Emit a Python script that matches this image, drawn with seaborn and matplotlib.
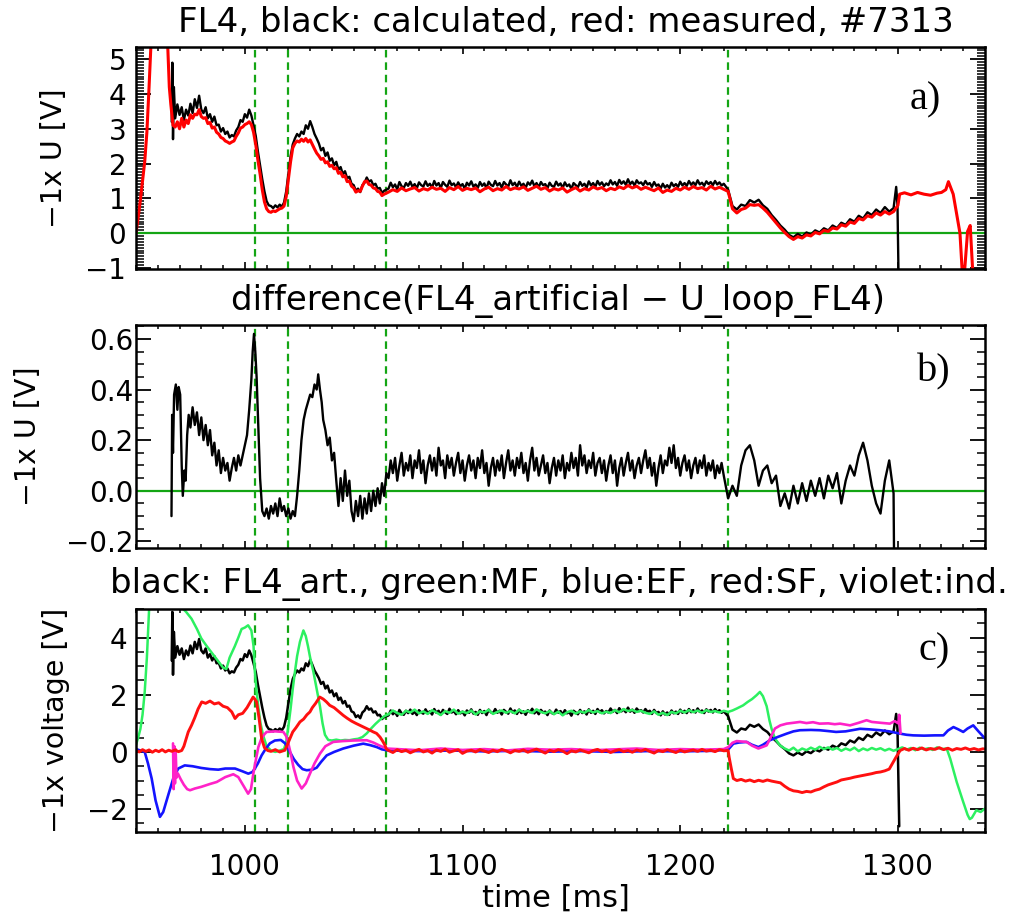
import numpy as np
import pandas as pd
import matplotlib
matplotlib.use("Agg")
import matplotlib.pyplot as plt
from matplotlib.ticker import MultipleLocator, FuncFormatter
import seaborn as sns

# ---------------------------------------------------------------- data
# time window and phase markers [ms]
t_range = (950, 1340)
event_times = [1004.5, 1020, 1065, 1222]

# sampling grids [ms]: flat-top phase at 2 ms and 1 ms, start-up at 1 ms,
# ramp-down at 2 ms
flat_t = np.arange(1066, 1221, 2)
flat1_t = np.arange(1066, 1221)
rise_t = np.arange(968, 1066)
end_t = np.arange(1222, 1299, 2)

# --- FL4 calculated (black), -1x U [V]
calc_start = [(966.4, 3.2), (966.7, 4.9), (967.0, 2.7), (967.4, 4.2)]
calc_rise = [3.30, 3.70, 3.40, 3.62, 3.25, 3.55, 3.38, 3.72, 3.45, 3.85,
             3.60, 3.95, 3.55, 3.45, 3.62, 3.30, 3.42, 3.20, 3.35, 3.10,
             3.12, 2.92, 3.02, 2.85, 2.92, 2.75, 2.82, 2.78, 2.95, 3.05,
             3.25, 3.20, 3.42, 3.32, 3.55, 3.38, 3.10, 2.80, 2.35, 1.95,
             1.55, 1.20, 0.92, 0.80, 0.78, 0.72, 0.80, 0.74, 0.82, 0.76,
             0.88, 1.20, 1.70, 2.20, 2.55, 2.72, 2.85, 2.78, 2.92, 2.85,
             3.10, 3.00, 3.22, 3.05, 2.85, 2.72, 2.58, 2.38, 2.45, 2.22,
             2.32, 2.08, 2.15, 1.95, 2.05, 1.82, 1.90, 1.70, 1.78, 1.58,
             1.62, 1.42, 1.38, 1.22, 1.28, 1.18, 1.38, 1.45, 1.60, 1.48,
             1.52, 1.38, 1.42, 1.28, 1.30, 1.15, 1.22, 1.25]
calc_flat = [1.28, 1.45, 1.32, 1.40, 1.26, 1.47, 1.35, 1.30, 1.44, 1.36,
             1.48, 1.33, 1.41, 1.29, 1.46, 1.38, 1.34, 1.49, 1.36, 1.42,
             1.31, 1.50, 1.37, 1.44, 1.30, 1.47, 1.39, 1.33, 1.51, 1.38,
             1.43, 1.32, 1.46, 1.35, 1.41, 1.28, 1.45, 1.37, 1.49, 1.34,
             1.40, 1.30, 1.47, 1.36, 1.43, 1.29, 1.48, 1.39, 1.35, 1.50,
             1.37, 1.44, 1.31, 1.47, 1.40, 1.34, 1.52, 1.38, 1.45, 1.33,
             1.48, 1.36, 1.42, 1.30, 1.46, 1.39, 1.51, 1.35, 1.44, 1.32,
             1.47, 1.38, 1.41, 1.29, 1.45, 1.36, 1.33, 1.48, 1.37, 1.43,
             1.30, 1.46, 1.35, 1.40, 1.27, 1.44, 1.38, 1.32, 1.47, 1.36,
             1.42, 1.31, 1.49, 1.37, 1.44, 1.33, 1.50, 1.39, 1.46, 1.35,
             1.43, 1.38, 1.52, 1.40, 1.47, 1.36, 1.53, 1.42, 1.49, 1.39,
             1.55, 1.41, 1.48, 1.37, 1.52, 1.43, 1.46, 1.38, 1.50, 1.40,
             1.44, 1.33, 1.47, 1.36, 1.40, 1.28, 1.42, 1.31, 1.38, 1.30,
             1.45, 1.35, 1.41, 1.33, 1.48, 1.37, 1.44, 1.36, 1.50, 1.39,
             1.46, 1.38, 1.52, 1.40, 1.45, 1.36, 1.49, 1.41, 1.47, 1.38,
             1.50, 1.40, 1.46, 1.37, 1.42]
calc_end = [1.25, 0.78, 0.68, 0.82, 0.78, 0.95, 0.88, 0.96, 0.80, 0.70,
            0.52, 0.38, 0.22, 0.10, -0.05, -0.12, -0.02, -0.10, 0.02, -0.04,
            0.08, 0.02, 0.14, 0.08, 0.22, 0.15, 0.30, 0.24, 0.40, 0.33,
            0.50, 0.42, 0.60, 0.52, 0.68, 0.58, 0.75, 0.62, 0.72]
calc_stop = [(1299.2, 1.33), (1299.8, 0.8), (1300.6, -2.6)]

# --- U_loop_FL4 measured (red), -1x U [V]
meas_start = [(950, 0.0), (951, 0.45), (952, 0.95), (953, 1.5), (954, 2.05),
              (955, 2.9), (956, 4.2), (957, 5.6), (958, 7.5), (963.5, 7.5),
              (964.5, 5.5), (965.3, 4.2), (966, 3.7), (967, 3.1)]
meas_rise = [3.05, 3.20, 3.00, 3.30, 3.05, 3.25, 3.15, 3.40, 3.30, 3.42,
             3.40, 3.55, 3.35, 3.30, 3.32, 3.15, 3.18, 3.02, 3.05, 2.90,
             2.85, 2.75, 2.72, 2.65, 2.62, 2.58, 2.62, 2.65, 2.78, 2.88,
             3.02, 3.05, 3.12, 3.15, 3.20, 3.12, 2.90, 2.55, 2.10, 1.70,
             1.25, 0.90, 0.70, 0.62, 0.60, 0.64, 0.62, 0.66, 0.70, 0.72,
             0.78, 1.05, 1.55, 2.05, 2.45, 2.58, 2.65, 2.62, 2.70, 2.64,
             2.72, 2.62, 2.68, 2.55, 2.42, 2.30, 2.22, 2.12, 2.15, 2.02,
             2.05, 1.92, 1.95, 1.85, 1.88, 1.72, 1.75, 1.62, 1.65, 1.48,
             1.50, 1.35, 1.30, 1.18, 1.22, 1.20, 1.35, 1.48, 1.50, 1.40,
             1.38, 1.30, 1.28, 1.20, 1.18, 1.08, 1.12, 1.15]
meas_flat = [1.18, 1.25, 1.20, 1.30, 1.22, 1.27, 1.31, 1.21, 1.28, 1.24,
             1.32, 1.26, 1.29, 1.20, 1.31, 1.25, 1.34, 1.23, 1.29, 1.25,
             1.30, 1.19, 1.27, 1.32, 1.22, 1.28, 1.24, 1.34, 1.25, 1.30,
             1.27, 1.33, 1.23, 1.29, 1.35, 1.26, 1.31, 1.21, 1.28, 1.24,
             1.30, 1.18, 1.25, 1.31, 1.21, 1.28, 1.24, 1.33, 1.27, 1.31,
             1.22, 1.29, 1.25, 1.33, 1.28, 1.37, 1.30, 1.35, 1.26, 1.32,
             1.27, 1.22, 1.30, 1.17, 1.24, 1.20, 1.29, 1.24, 1.32, 1.26,
             1.34, 1.28, 1.31, 1.24, 1.35, 1.27, 1.32, 1.26]
meas_end = [1.20, 0.70, 0.58, 0.68, 0.72, 0.82, 0.80, 0.82, 0.72, 0.60,
            0.45, 0.30, 0.15, 0.02, -0.10, -0.18, -0.10, -0.14, -0.05, -0.08,
            0.02, -0.02, 0.08, 0.05, 0.15, 0.12, 0.24, 0.20, 0.32, 0.28,
            0.42, 0.38, 0.50, 0.46, 0.58, 0.52, 0.62, 0.55, 0.62]
meas_stop = [(1300.0, 0.80), (1300.8, 1.12), (1303, 1.16), (1306, 1.10),
             (1309, 1.17), (1312, 1.12), (1315, 1.09), (1318, 1.15),
             (1320, 1.17), (1322, 1.25), (1323.2, 1.48), (1325.4, 1.12),
             (1327, 0.55), (1328.5, 0.0), (1330, -1.6), (1332, 0.05),
             (1333.2, 0.22), (1334.8, -1.6)]

# --- difference FL4_artificial - U_loop_FL4, -1x U [V]
diff_start = [(966.3, -0.10), (966.6, 0.30), (967.0, 0.15), (967.5, 0.38),
              (968.3, 0.42), (969.0, 0.32), (969.6, 0.41), (970.3, 0.38),
              (971.0, 0.10), (971.5, -0.02), (972.2, 0.08), (972.8, 0.04),
              (973.5, 0.22), (974.2, 0.30), (975, 0.25), (976, 0.33),
              (977, 0.26), (978, 0.31), (979, 0.22), (980, 0.29), (981, 0.20),
              (982, 0.26), (983, 0.18), (984, 0.24), (985, 0.14), (986, 0.19),
              (987, 0.10), (988, 0.16), (989, 0.07), (990, 0.13), (991, 0.08),
              (992, 0.11), (993, 0.04), (994, 0.09), (995, 0.13), (996, 0.08),
              (997, 0.14), (998, 0.10), (999, 0.14), (1000, 0.18), (1001, 0.22),
              (1002, 0.32), (1003, 0.44), (1003.6, 0.55), (1004.2, 0.62),
              (1004.8, 0.55), (1005.4, 0.45), (1006.2, 0.25), (1007, 0.05),
              (1008, -0.08), (1009, -0.10), (1010, -0.07), (1011, -0.11),
              (1012, -0.06), (1013, -0.09), (1014, -0.05), (1015, -0.10),
              (1016, -0.03), (1017, -0.08), (1018, -0.06), (1019, -0.10),
              (1020, -0.07), (1021, -0.11), (1022, -0.08), (1023, -0.10),
              (1024, -0.02), (1025, 0.08), (1026, 0.20), (1027, 0.28),
              (1028, 0.32), (1029, 0.35), (1030, 0.38), (1031, 0.37),
              (1032, 0.42), (1033, 0.40), (1033.7, 0.46), (1034.5, 0.40),
              (1035.3, 0.35), (1036, 0.28), (1037, 0.24), (1038, 0.18),
              (1039, 0.21), (1040, 0.12), (1041, 0.15), (1042, 0.04),
              (1043, -0.06), (1044, 0.05), (1045, -0.04), (1046, 0.08),
              (1047, -0.02), (1048, 0.04), (1049, -0.08), (1050, -0.12),
              (1051, -0.04), (1052, -0.10), (1053, -0.02), (1054, -0.11),
              (1055, -0.03), (1056, -0.09), (1057, -0.01), (1058, -0.08),
              (1059, 0.00), (1060, -0.06), (1061, 0.01), (1062, -0.05),
              (1063, 0.03), (1064, -0.02), (1065, 0.07)]
diff_flat = [0.05, 0.12, 0.07, 0.13, 0.04, 0.10, 0.15, 0.06, 0.11, 0.08,
             0.14, 0.05, 0.12, 0.09, 0.16, 0.07, 0.12, 0.03, 0.10, 0.14,
             0.08, 0.13, 0.06, 0.17, 0.10, 0.12, 0.05, 0.14, 0.09, 0.13,
             0.06, 0.11, 0.15, 0.07, 0.12, 0.04, 0.10, 0.14, 0.08, 0.12,
             0.05, 0.13, 0.09, 0.16, 0.07, 0.11, 0.02, 0.09, 0.13, 0.06,
             0.12, 0.08, 0.14, 0.05, 0.11, 0.16, 0.08, 0.12, 0.06, 0.13,
             0.09, 0.15, 0.07, 0.11, 0.04, 0.12, 0.17, 0.08, 0.13, 0.06,
             0.10, 0.14, 0.07, 0.11, 0.03, 0.09, 0.13, 0.06, 0.12, 0.08,
             0.14, 0.05, 0.11, 0.08, 0.15, 0.09, 0.13, 0.06, 0.18, 0.10,
             0.14, 0.07, 0.12, 0.09, 0.15, 0.06, 0.11, 0.13, 0.07, 0.12,
             0.04, 0.10, 0.14, 0.07, 0.12, 0.02, 0.09, 0.13, 0.06, 0.11,
             0.15, 0.08, 0.12, 0.05, 0.10, 0.13, 0.07, 0.12, 0.16, 0.09,
             0.13, 0.06, 0.11, 0.02, 0.09, 0.14, 0.07, 0.12, 0.10, 0.17,
             0.11, 0.18, 0.09, 0.13, 0.06, 0.11, 0.14, 0.08, 0.12, 0.05,
             0.10, 0.13, 0.07, 0.12, 0.09, 0.14, 0.06, 0.11, 0.08, 0.12,
             0.05, 0.10, 0.07, 0.11, 0.06]
diff_end = [-0.03, 0.02, -0.02, 0.10, 0.16, 0.18, 0.12, 0.02, 0.08, 0.10,
            0.03, 0.06, -0.06, -0.01, -0.07, 0.02, -0.05, 0.03, -0.04, 0.04,
            -0.02, 0.05, -0.03, 0.06, 0.01, 0.07, -0.05, 0.04, 0.10, 0.06,
            0.14, 0.19, 0.12, 0.02, -0.05, -0.09, 0.04, 0.12, -0.01]
diff_stop = [(1298.3, -0.35)]

# --- coil contributions, -1x voltage [V]
mf_start = [(950, 0.25), (951, 0.5), (952, 0.8), (953, 1.3), (954, 2.1),
            (955, 3.3), (955.5, 4.1), (956.2, 5.3), (957, 7.0), (970, 6.5),
            (971.7, 5.0), (973, 4.9), (975.5, 4.66), (978, 4.3), (980, 3.97),
            (982.5, 3.7), (985, 3.45), (987.5, 3.2), (990, 2.95), (991.5, 2.9),
            (993, 3.3), (995.4, 3.7), (997, 4.0), (998.5, 4.3), (1000, 4.35),
            (1001.5, 4.43), (1003, 4.25), (1004, 3.7), (1004.6, 2.8),
            (1005.3, 2.2), (1006.1, 1.63), (1007.2, 1.0), (1008.4, 0.58),
            (1010, 0.2), (1012, 0.05), (1014, 0.0), (1016, 0.05), (1018, 0.1),
            (1019, 0.35), (1020, 0.9), (1021, 1.5), (1022, 2.2), (1023, 2.8),
            (1024, 3.35), (1025.3, 3.85), (1026.9, 4.25), (1028, 4.05),
            (1029, 3.7), (1030, 3.3), (1031.5, 2.8), (1033, 2.2),
            (1034.5, 1.6), (1035.7, 1.0), (1036.8, 0.6), (1038.3, 0.42),
            (1040, 0.40), (1042, 0.43), (1044, 0.40), (1046, 0.42),
            (1048, 0.41), (1050, 0.44), (1052, 0.46), (1054, 0.52),
            (1056, 0.65), (1058, 0.82), (1060, 0.98), (1062, 1.12), (1064, 1.25)]
mf_flat = [1.32, 1.45, 1.36, 1.30, 1.44, 1.38, 1.48, 1.35, 1.42, 1.33,
           1.46, 1.38, 1.29, 1.43, 1.37, 1.48, 1.34, 1.41, 1.36, 1.45,
           1.31, 1.42, 1.38, 1.47, 1.33, 1.40, 1.45, 1.37, 1.43, 1.35,
           1.47, 1.39, 1.44, 1.36, 1.49, 1.40, 1.35, 1.43, 1.32, 1.41,
           1.28, 1.39, 1.44, 1.34, 1.42, 1.37, 1.46, 1.38, 1.43, 1.35,
           1.41, 1.36, 1.46, 1.39, 1.50, 1.43, 1.47, 1.40, 1.44, 1.37,
           1.33, 1.42, 1.30, 1.37, 1.29, 1.40, 1.35, 1.44, 1.38, 1.46,
           1.39, 1.45, 1.37, 1.46, 1.40, 1.43, 1.38, 1.44]
mf_end = [(1222, 1.40), (1224, 1.45), (1226, 1.52), (1228.9, 1.63),
          (1231, 1.75), (1233, 1.85), (1235, 1.98), (1236.6, 2.10),
          (1238, 1.95), (1239.7, 1.60), (1241, 1.10), (1242, 0.80),
          (1243.5, 0.47), (1245.8, 0.23), (1248, 0.12), (1250, 0.05),
          (1252, 0.15), (1254, 0.02), (1256, 0.12), (1258, 0.06), (1260, 0.15),
          (1262, 0.08), (1264, 0.18), (1266, 0.10), (1268, 0.16), (1270, 0.08),
          (1272, 0.14), (1274, 0.04), (1276, 0.12), (1278, 0.06), (1280, 0.15),
          (1282, 0.03), (1284, 0.12), (1286, 0.06), (1288, 0.14), (1290, 0.08),
          (1292, 0.13), (1294, 0.05), (1296, 0.11), (1298, 0.04), (1300, 0.10),
          (1302, 0.16), (1304, 0.08), (1306, 0.14), (1308, 0.06), (1310, 0.15),
          (1312, 0.09), (1314, 0.13), (1316, 0.07), (1318, 0.16), (1320, 0.10),
          (1322.4, 0.12), (1324, -0.23), (1327, -1.05), (1330, -1.75),
          (1332, -2.2), (1333, -2.35), (1334, -2.3), (1336, -2.04),
          (1338, -2.1), (1340, -1.98)]

ef_pts = [(950, 0.10), (952, 0.05), (954, 0.0), (955.5, -0.4), (957.2, -0.93),
          (959, -1.7), (961, -2.27), (962.5, -2.1), (964.8, -1.51),
          (967.1, -0.93), (969.4, -0.58), (972.4, -0.47), (976, -0.50),
          (980, -0.56), (984, -0.60), (987.8, -0.62), (991, -0.58),
          (995.5, -0.58), (999, -0.68), (1001.6, -0.76), (1003.5, -0.70),
          (1004.6, -0.58), (1006, -0.40), (1007.7, -0.12), (1009.5, 0.10),
          (1011.5, 0.30), (1013.8, 0.40), (1016.5, 0.42), (1018.5, 0.30),
          (1020.7, 0.0), (1022.5, -0.25), (1024.5, -0.45), (1026.5, -0.60),
          (1028.4, -0.64), (1031, -0.62), (1033, -0.55), (1035, -0.35),
          (1037.6, -0.12), (1041, 0.0), (1045.2, 0.12), (1050, 0.22),
          (1054.4, 0.29), (1057.5, 0.24), (1060.6, 0.17), (1063, 0.09),
          (1066, 0.05), (1080, 0.03), (1095, 0.05), (1110, 0.02), (1125, 0.04),
          (1140, 0.01), (1155, 0.03), (1170, 0.0), (1185, 0.03), (1200, 0.02),
          (1215, 0.04), (1222, 0.08), (1224.4, 0.29), (1227, 0.33),
          (1230.5, 0.35), (1233, 0.25), (1235.9, 0.17), (1238, 0.25),
          (1241.2, 0.41), (1245, 0.53), (1248.9, 0.64), (1252, 0.72),
          (1255, 0.76), (1260, 0.77), (1264, 0.76), (1268, 0.73),
          (1271.6, 0.70), (1276, 0.72), (1282.6, 0.81), (1287, 0.79),
          (1291.8, 0.76), (1296, 0.72), (1301, 0.64), (1304, 0.60),
          (1307, 0.58), (1312, 0.57), (1317, 0.58), (1320.9, 0.58),
          (1323, 0.75), (1325.5, 0.87), (1327.5, 0.80), (1330, 0.70),
          (1332, 0.82), (1334.6, 0.93), (1337, 0.72), (1340, 0.47)]

sf_start = [(950, 0.05), (951.5, 0.0), (953, 0.08), (954.5, 0.02), (956, 0.07),
            (957.5, -0.01), (959, 0.06), (960.5, 0.01), (962, 0.08),
            (963.5, 0.0), (965, 0.06), (966.5, 0.02), (968, 0.07),
            (969.5, 0.01), (971, 0.05), (972, 0.20), (973, 0.45), (974, 0.70),
            (975.5, 0.93), (977, 1.20), (978.5, 1.50), (980.2, 1.75),
            (982, 1.70), (984, 1.78), (986, 1.68), (988, 1.72), (990, 1.60),
            (992, 1.55), (994, 1.40), (995.5, 1.17), (997, 1.30), (999, 1.35),
            (1001, 1.55), (1002.5, 1.75), (1003.8, 1.92), (1004.6, 1.85),
            (1005.4, 1.75), (1006.5, 1.20), (1007.7, 0.47), (1009, 0.15),
            (1010.5, 0.05), (1012, 0.02), (1014, 0.08), (1016, 0.0),
            (1018.4, 0.06), (1019.5, 0.25), (1020.7, 0.47), (1022, 0.70),
            (1023.5, 0.85), (1025.3, 1.05), (1027, 1.15), (1028.5, 1.30),
            (1029.9, 1.40), (1031, 1.55), (1032.5, 1.70), (1034.4, 1.92),
            (1036, 1.85), (1037.5, 1.75), (1039, 1.63), (1041, 1.55),
            (1043, 1.42), (1045.2, 1.28), (1047, 1.18), (1049, 1.08),
            (1051, 1.00), (1052.9, 0.93), (1055, 0.85), (1057, 0.78),
            (1059, 0.70), (1060.5, 0.65), (1062.1, 0.52), (1063.3, 0.38),
            (1064.4, 0.23), (1065, 0.10)]
sf_flat = [0.05, -0.02, 0.08, 0.01, 0.06, -0.03, 0.04, 0.09, 0.00, 0.05,
           -0.04, 0.07, 0.02, 0.10, -0.01, 0.04, 0.08, -0.05, 0.03, 0.06,
           0.00, 0.08, 0.03, -0.02, 0.06, 0.01, 0.09, 0.04, -0.03, 0.05,
           0.02, 0.07, -0.01, 0.05, 0.10, 0.03, -0.04, 0.06, 0.01, 0.08,
           0.03, -0.06, 0.04, 0.00, 0.07, 0.02, -0.03, 0.05, 0.09, 0.01,
           0.06, -0.02, 0.04, 0.08, 0.01, 0.05, -0.01, 0.07, 0.03, 0.09,
           0.02, -0.04, 0.05, 0.01, 0.08, 0.03, -0.02, 0.06, 0.00, 0.04,
           0.07, 0.02, 0.09, 0.03, 0.06, 0.01, 0.08, 0.04]
sf_end = [(1222, 0.05), (1222.5, -0.20), (1223.5, -0.60), (1224.4, -0.93),
          (1226, -1.00), (1228, -0.96), (1230, -1.02), (1232, -0.98),
          (1234, -1.04), (1236, -0.99), (1238, -1.03), (1240, -0.98),
          (1242, -1.02), (1244, -1.05), (1246, -1.08), (1248, -1.20),
          (1250, -1.30), (1252, -1.36), (1254, -1.38), (1256, -1.42),
          (1258, -1.38), (1260, -1.40), (1262, -1.34), (1264, -1.30),
          (1266, -1.22), (1268, -1.15), (1270, -1.10), (1272, -1.05),
          (1274, -0.98), (1276, -0.95), (1278, -0.92), (1280, -0.88),
          (1282, -0.85), (1284, -0.82), (1286, -0.79), (1288, -0.76),
          (1290, -0.72), (1292, -0.70), (1294, -0.66), (1296, -0.60),
          (1297.5, -0.40), (1299, -0.20), (1301, 0.05), (1303, 0.12),
          (1305, 0.06), (1307, 0.13), (1309, 0.08), (1311, 0.14), (1313, 0.07),
          (1315, 0.12), (1317, 0.09), (1319, 0.15), (1321, 0.08), (1323, 0.13),
          (1325, 0.06), (1327, 0.12), (1329, 0.09), (1331, 0.14), (1333, 0.08),
          (1335, 0.12), (1337, 0.07), (1339, 0.11), (1340, 0.10)]

ind_pts = [(967.0, 0.30), (967.3, -1.30), (967.6, 0.20), (967.9, -1.10),
           (968.2, 0.10), (968.6, -0.90), (969.2, -0.75), (970.5, -0.95),
           (972, -1.15), (973.5, -1.30), (974.8, -1.34), (977, -1.28),
           (980, -1.22), (984, -1.12), (987.1, -1.05), (991, -0.88),
           (994.7, -0.78), (997, -0.88), (999.5, -1.20), (1001.5, -1.46),
           (1002.8, -1.30), (1003.9, -0.76), (1005, -0.30), (1006.2, 0.17),
           (1007.5, 0.45), (1009, 0.62), (1010, 0.70), (1014, 0.72),
           (1017.7, 0.70), (1019, 0.55), (1020, 0.29), (1021.2, -0.10),
           (1022.3, -0.52), (1024, -1.00), (1026.1, -1.28), (1028, -1.10),
           (1029.9, -0.76), (1032, -0.40), (1034.5, -0.06), (1037, 0.20),
           (1040.6, 0.35), (1045, 0.38), (1050, 0.40), (1056, 0.41),
           (1059, 0.33), (1062, 0.22), (1065, 0.12), (1070, 0.10), (1080, 0.06),
           (1090, 0.12), (1100, 0.07), (1110, 0.10), (1120, 0.05), (1130, 0.11),
           (1140, 0.08), (1150, 0.10), (1160, 0.06), (1170, 0.09), (1180, 0.12),
           (1190, 0.07), (1200, 0.10), (1210, 0.08), (1220, 0.10),
           (1222.1, 0.17), (1224, 0.32), (1225.9, 0.38), (1230.5, 0.35),
           (1233, 0.22), (1235.9, 0.12), (1238, 0.18), (1239.7, 0.23),
           (1241.5, 0.50), (1243.5, 0.82), (1246, 0.93), (1248.9, 0.99),
           (1252, 1.02), (1255, 1.05), (1258, 1.01), (1261, 1.04), (1264, 0.99),
           (1268, 1.00), (1271, 0.97), (1273.4, 0.99), (1278, 0.93),
           (1282, 1.02), (1285.6, 1.11), (1288, 1.05), (1292, 1.02),
           (1296.3, 0.99), (1298.5, 1.08), (1300.2, 1.00), (1300.6, 1.30),
           (1301.2, 0.65)]

# text
title_a = "FL4, black: calculated, red: measured, #7313"
title_b = "difference(FL4_artificial \u2212 U_loop_FL4)"
title_c = "black: FL4_art., green:MF, blue:EF, red:SF, violet:ind."
ylabel_ab = "\u22121x U [V]"
ylabel_c = "\u22121x voltage [V]"
xlabel = "time [ms]"


# ---------------------------------------------------------------- helpers
def frame(*segments):
    """Join (times, values) segments or lists of (t, v) pairs into one frame."""
    ts, vs = [], []
    for seg in segments:
        if isinstance(seg, tuple):
            t, v = seg
        else:
            t, v = zip(*seg)
        ts.extend(list(t))
        vs.extend(list(v))
    return pd.DataFrame({"t": ts, "v": vs})


calc = frame(calc_start, (rise_t, calc_rise), (flat1_t, calc_flat),
             (end_t, calc_end), calc_stop)
meas = frame(meas_start, (rise_t, meas_rise), (flat_t, meas_flat),
             (end_t, meas_end), meas_stop)
diff = frame(diff_start, (flat1_t, diff_flat), (end_t, diff_end), diff_stop)
mf = frame(mf_start, (flat_t, mf_flat), mf_end)
ef = frame(ef_pts)
sf = frame(sf_start, (flat_t, sf_flat), sf_end)
ind = frame(ind_pts)

# ---------------------------------------------------------------- style
sns.set_style("ticks")
plt.rcParams["font.family"] = ["DejaVu Sans"]
plt.rcParams["axes.unicode_minus"] = True
for key in ("text.color", "axes.labelcolor", "xtick.color", "ytick.color",
            "xtick.labelcolor", "ytick.labelcolor"):
    plt.rcParams[key] = "black"

DARK_GREEN = "#14a514"
fig = plt.figure(figsize=(10.17, 9.17), dpi=100)
fig.patch.set_facecolor("white")

ax_left, ax_w = 136 / 1017, 849 / 1017
ax_a = fig.add_axes([ax_left, 1 - 269 / 917, ax_w, 222 / 917])
ax_b = fig.add_axes([ax_left, 1 - 548 / 917, ax_w, 223 / 917])
ax_c = fig.add_axes([ax_left, 1 - 832 / 917, ax_w, 223 / 917])

line_kw = dict(x="t", y="v", estimator=None, sort=False, legend=False)

# panel a
for t in event_times:
    ax_a.axvline(t, color=DARK_GREEN, lw=1.6, dashes=(3.4, 2.2), zorder=1)
ax_a.axhline(0, color=DARK_GREEN, lw=1.6, zorder=1)
sns.lineplot(data=calc, ax=ax_a, color="black", lw=1.7, **line_kw)
sns.lineplot(data=meas, ax=ax_a, color="#ff0000", lw=2.2, **line_kw)

# panel b
for t in event_times:
    ax_b.axvline(t, color=DARK_GREEN, lw=1.6, dashes=(3.4, 2.2), zorder=1)
ax_b.axhline(0, color=DARK_GREEN, lw=1.6, zorder=1)
sns.lineplot(data=diff, ax=ax_b, color="black", lw=1.7, **line_kw)

# panel c
for t in event_times:
    ax_c.axvline(t, color=DARK_GREEN, lw=1.6, dashes=(3.4, 2.2), zorder=1)
sns.lineplot(data=calc, ax=ax_c, color="black", lw=1.8, **line_kw)
sns.lineplot(data=mf, ax=ax_c, color="#2cf060", lw=1.8, **line_kw)
sns.lineplot(data=ef, ax=ax_c, color="#1414ff", lw=1.9, **line_kw)
sns.lineplot(data=ind, ax=ax_c, color="#ff22c8", lw=1.9, **line_kw)
sns.lineplot(data=sf, ax=ax_c, color="#ff1010", lw=2.1, **line_kw)


def minus(fmt):
    return FuncFormatter(lambda v, p: (fmt % v).replace("-", "\u2212"))


for ax, (y0, y1), ymaj, ymin, fmt, ypad in [
        (ax_a, (-1.03, 5.35), 1, 1 / 12, "%d", 7),
        (ax_b, (-0.226, 0.655), 0.2, 0.05, "%.1f", 2),
        (ax_c, (-2.8, 5.0), 2, 0.5, "%d", 6)]:
    ax.set_xlim(*t_range)
    ax.set_ylim(y0, y1)
    ax.xaxis.set_major_locator(MultipleLocator(100))
    ax.xaxis.set_minor_locator(MultipleLocator(10))
    ax.yaxis.set_major_locator(MultipleLocator(ymaj))
    ax.yaxis.set_minor_locator(MultipleLocator(ymin))
    ax.yaxis.set_major_formatter(minus(fmt))
    ax.tick_params(axis="both", which="both", direction="in",
                   top=True, right=True, labelsize=20, color="black",
                   labelcolor="black")
    ax.tick_params(axis="x", which="major", length=5, width=1.2, pad=15)
    ax.tick_params(axis="x", which="minor", length=2.8, width=1.1)
    ax.tick_params(axis="y", which="major", length=11, width=1.3, pad=ypad)
    ax.tick_params(axis="y", which="minor", length=5.5, width=1.1)
    for s in ax.spines.values():
        s.set_linewidth(1.8)
        s.set_color("black")
    ax.set_xlabel("")
    ax.set_facecolor("white")

ax_a.tick_params(axis="x", labelbottom=False)
ax_b.tick_params(axis="x", labelbottom=False)

ax_a.set_ylabel(ylabel_ab, fontsize=20.5, color="black")
ax_b.set_ylabel(ylabel_ab, fontsize=20.5, color="black")
ax_c.set_ylabel(ylabel_c, fontsize=20.5, color="black")
ax_a.yaxis.set_label_coords(-0.080, 0.5)
ax_b.yaxis.set_label_coords(-0.111, 0.5)
ax_c.yaxis.set_label_coords(-0.078, 0.5)

fig.text(0.556, 1 - 32 / 917, title_a, ha="center", va="baseline",
         fontsize=24.5, color="black")
fig.text(0.549, 1 - 310 / 917, title_b, ha="center", va="baseline",
         fontsize=24.5, color="black")
fig.text(0.550, 1 - 593 / 917, title_c, ha="center", va="baseline",
         fontsize=24.5, color="black")
fig.text(0.547, 1 - 907 / 917, xlabel, ha="center", va="baseline",
         fontsize=22, color="black")

for ax, lab, (x, y) in [(ax_a, "a)", (0.93, 0.76)),
                        (ax_b, "b)", (0.94, 0.79)),
                        (ax_c, "c)", (0.94, 0.81))]:
    ax.text(x, y, lab, transform=ax.transAxes, ha="center", va="center",
            fontsize=29, fontfamily="Liberation Serif", color="black")

fig.savefig("out.png", dpi=100, facecolor="white")
